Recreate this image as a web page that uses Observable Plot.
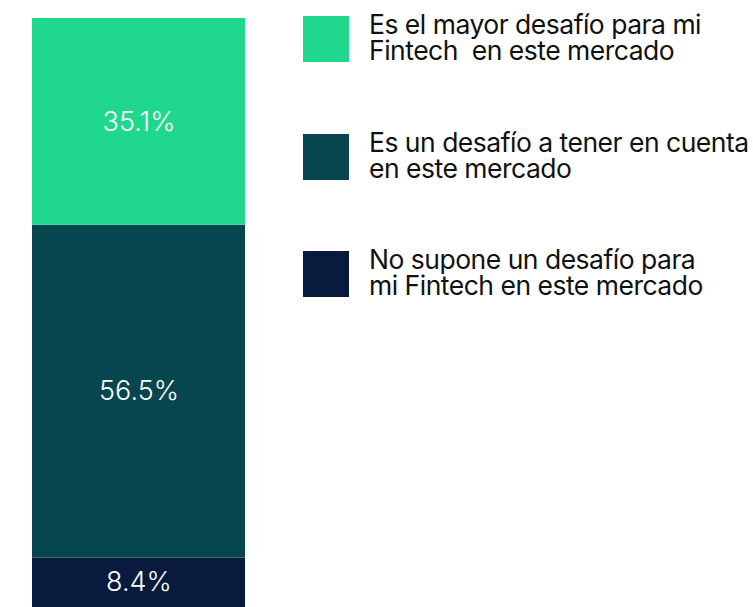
<!DOCTYPE html>
<html>
<head>
<meta charset="utf-8">
<script src="https://cdn.jsdelivr.net/npm/d3@7"></script>
<script src="https://cdn.jsdelivr.net/npm/@observablehq/plot@0.6"></script>
<style>
  html, body { margin: 0; padding: 0; background: #fff; }
  #wrap { display: flex; align-items: flex-start; width: 753px; height: 607px; overflow: hidden; }
  #legend { font-family: Inter, "Noto Sans", sans-serif; color: #111; }
  .item { display: flex; align-items: flex-start; position: absolute; left: 303px; }
  .sw { width: 46px; height: 46px; flex: none; }
  .lab { margin-left: 20px; font-size: 26.5px; line-height: 26px; letter-spacing: -0.5px; margin-top: -5px; white-space: nowrap; }
</style>
</head>
<body>
<div id="wrap"><div id="chart"></div><div id="legend"></div></div>
<script>
const categories = [
  "No supone un desafío para mi Fintech en este mercado",
  "Es un desafío a tener en cuenta en este mercado",
  "Es el mayor desafío para mi Fintech  en este mercado"
];
const values = [8.4, 56.5, 35.1];
const colors = ["#081A3E", "#08464F", "#1FD88E"];
const legendLines = [
  ["Es el mayor desafío para mi", "Fintech  en este mercado"],
  ["Es un desafío a tener en cuenta", "en este mercado"],
  ["No supone un desafío para", "mi Fintech en este mercado"]
];
const legendColors = ["#1FD88E", "#08464F", "#081A3E"];
const legendTops = [16, 134, 251];

const data = categories.map((c, i) => ({group: "all", category: c, value: values[i]}));

const chart = Plot.plot({
  width: 265,
  height: 607,
  marginTop: 18,
  marginBottom: 0,
  marginLeft: 32,
  marginRight: 20,
  x: {domain: ["all"], padding: 0, axis: null},
  y: {domain: [0, 100], axis: null},
  color: {domain: categories, range: colors},
  style: {fontFamily: "Inter, 'Noto Sans', sans-serif"},
  marks: [
    Plot.barY(data, Plot.stackY({x: "group", y: "value", fill: "category", order: null})),
    Plot.text(data, Plot.stackY({
      x: "group", y: "value", z: "category", order: null,
      text: d => d.value.toFixed(1) + "%",
      fill: "white", fontSize: 27, fontWeight: 300
    }))
  ]
});
document.getElementById("chart").appendChild(chart);

const legend = document.getElementById("legend");
legendLines.forEach((lines, i) => {
  const item = document.createElement("div");
  item.className = "item";
  item.style.top = legendTops[i] + "px";
  const sw = document.createElement("div");
  sw.className = "sw";
  sw.style.background = legendColors[i];
  const lab = document.createElement("div");
  lab.className = "lab";
  lines.forEach(l => {
    const line = document.createElement("div");
    line.style.height = "26px";
    line.style.whiteSpace = "pre";
    line.textContent = l;
    lab.appendChild(line);
  });
  item.appendChild(sw);
  item.appendChild(lab);
  legend.appendChild(item);
});
</script>
</body>
</html>
